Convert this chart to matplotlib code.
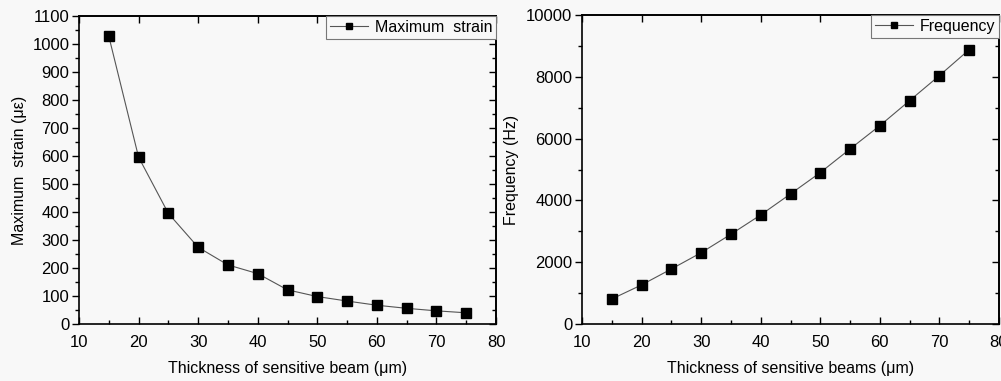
import matplotlib
matplotlib.use("Agg")
import matplotlib.pyplot as plt
from matplotlib.ticker import MultipleLocator

plt.rcParams['font.family'] = ['Liberation Sans', 'DejaVu Sans']

thickness = [15, 20, 25, 30, 35, 40, 45, 50, 55, 60, 65, 70, 75]
max_strain = [1028, 596, 395, 274, 211, 180, 122, 98, 82, 67, 56, 47, 40]
frequency = [809, 1265, 1780, 2307, 2905, 3530, 4210, 4900, 5665, 6420, 7230, 8040, 8880]

W, H = 1001, 381
fig = plt.figure(figsize=(W / 100, H / 100), dpi=100, facecolor='#f8f8f8')

def px_axes(l, r, t, b):
    return fig.add_axes([l / W, 1 - b / H, (r - l) / W, (b - t) / H])

ax1 = px_axes(79, 496, 16, 324)
ax2 = px_axes(582, 999, 15, 324)

def style(ax, ymax, ymajor, yminor, ylabel, xlabel):
    ax.set_facecolor('#f8f8f8')
    ax.set_xlim(10, 80)
    ax.set_ylim(0, ymax)
    ax.xaxis.set_major_locator(MultipleLocator(10))
    ax.xaxis.set_minor_locator(MultipleLocator(5))
    ax.yaxis.set_major_locator(MultipleLocator(ymajor))
    ax.yaxis.set_minor_locator(MultipleLocator(yminor))
    ax.tick_params(axis='y', which='both', direction='out', left=True, right=False,
                   labelsize=12, colors='black', pad=2)
    ax.tick_params(axis='y', which='major', length=5, width=1)
    ax.tick_params(axis='y', which='minor', length=3, width=1)
    ax.tick_params(axis='x', which='both', direction='in', bottom=True, top=False,
                   labelsize=12, pad=8)
    ax.tick_params(axis='x', which='major', length=5, width=1)
    ax.tick_params(axis='x', which='minor', length=3, width=1)
    axr = ax.secondary_yaxis('right')
    axr.yaxis.set_major_locator(MultipleLocator(ymajor))
    axr.yaxis.set_minor_locator(MultipleLocator(yminor))
    axr.tick_params(which='both', direction='in', labelright=False)
    axr.tick_params(which='major', length=5, width=1)
    axr.tick_params(which='minor', length=3, width=1)
    axr.spines['right'].set_linewidth(1.2)
    axt = ax.secondary_xaxis('top')
    axt.xaxis.set_major_locator(MultipleLocator(10))
    axt.tick_params(which='both', direction='in', labeltop=False, length=5, width=1)
    axt.spines['top'].set_linewidth(1.2)
    for s in ax.spines.values():
        s.set_linewidth(1.2)
    ax.set_ylabel(ylabel, fontsize=11.5)
    ax.set_xlabel(xlabel, fontsize=11.5, labelpad=8)

ax1.plot(thickness, max_strain, color='#555555', lw=0.8, marker='s', ms=7,
         mfc='black', mec='black', label='Maximum  strain')
style(ax1, 1100, 100, 50, 'Maximum  strain (με)', 'Thickness of sensitive beam (μm)')

ax2.plot(thickness, frequency, color='#555555', lw=0.8, marker='s', ms=7,
         mfc='black', mec='black', label='Frequency')
style(ax2, 10000, 2000, 1000, 'Frequency (Hz)', 'Thickness of sensitive beams (μm)')

for ax in (ax1, ax2):
    leg = ax.legend(loc='upper right', fontsize=11.5, frameon=True, fancybox=False,
                    borderaxespad=0, borderpad=0.25, handlelength=2.4,
                    handletextpad=0.4, markerscale=0.7, facecolor='#f8f8f8',
                    framealpha=1)
    leg.get_frame().set_edgecolor('#777777')
    leg.get_frame().set_linewidth(0.8)

ax1.yaxis.set_label_coords(-0.125, 0.5)
ax2.yaxis.set_label_coords(-0.15, 0.5)

fig.savefig('out.png', dpi=100, facecolor=fig.get_facecolor())
